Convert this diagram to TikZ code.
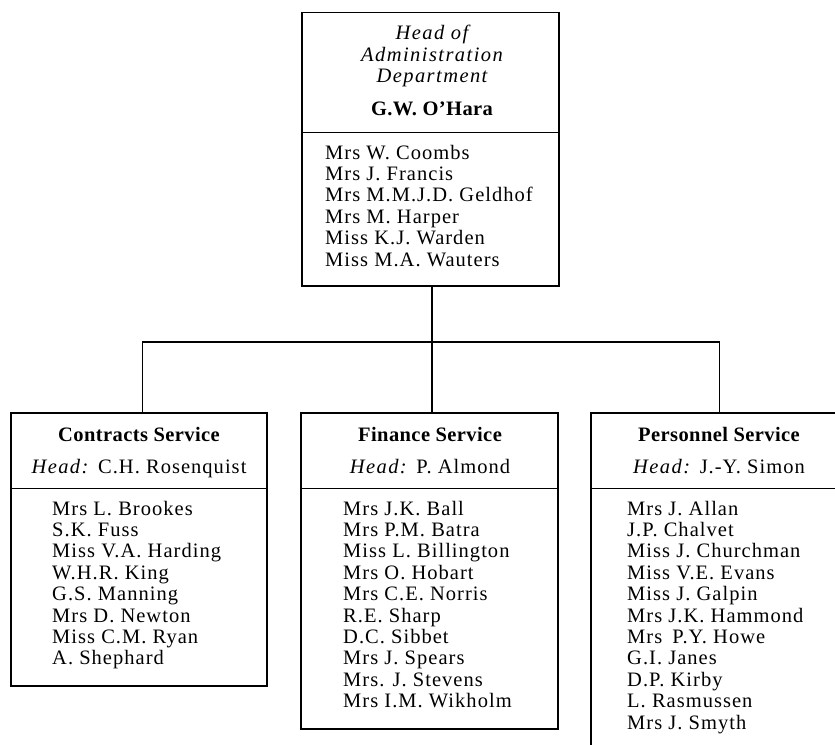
\documentclass[tikz,border=0pt]{standalone}
\usepackage{fontspec}
\setmainfont{Liberation Serif}[
  LetterSpace=5,
  ItalicFeatures={LetterSpace=7},
  BoldFeatures={LetterSpace=2}]
\begin{document}
\begin{tikzpicture}[x=1bp,y=-1bp,
  unitbox/.style={draw, line width=1.5bp, inner sep=0pt, anchor=north west},
  divider/.style={line width=1bp},
  link/.style={line width=1.2bp},
  title/.style={anchor=base, inner sep=0pt, font=\fontsize{20.5bp}{21.4bp}\selectfont},
  item/.style={anchor=base west, inner sep=0pt, font=\fontsize{20.5bp}{21.4bp}\selectfont}]
\useasboundingbox (0,0) rectangle (835,745);
\clip (0,0) rectangle (835,745);

% boxes
\node[unitbox, minimum width=257bp, minimum height=273bp] (head) at (301,12) {};
\node[unitbox, minimum width=256bp, minimum height=273bp] (contracts) at (10,412) {};
\node[unitbox, minimum width=257bp, minimum height=316bp] (finance) at (300,412) {};
\node[unitbox, minimum width=257bp, minimum height=380bp] (personnel) at (590,412) {};

% dividers between heading and staff list
\coordinate (dTop) at (0,132);
\coordinate (dLow) at (0,488);
\draw[divider] (head.west |- dTop) -- (head.east |- dTop);
\foreach \b in {contracts,finance,personnel}
  \draw[divider] (\b.west |- dLow) -- (\b.east |- dLow);

% connectors
\coordinate (bus) at (432,342);
\draw[link] (head.south -| bus) -- (bus);
\draw[link] ([xshift=4bp]contracts.north) |- (bus) -| (personnel.north);
\draw[link] (finance.north -| bus) -- (bus);

% department head
\node[title] (h1) at (432,40) {\itshape Head of};
\node[title] (h2) at (432,62) {\itshape Administration};
\node[title] (h3) at (432,83) {\itshape Department};
\node[title] (h4) at (432,115) {\bfseries G.W. O’Hara};
\foreach \n [count=\i] in {Mrs W. Coombs, Mrs J. Francis, Mrs M.M.J.D. Geldhof,
    Mrs M. Harper, Miss K.J. Warden, Miss M.A. Wauters}
  \node[item] (hs\i) at (325,{159+21.4*(\i-1)}) {\n};

% Contracts Service
\node[title] (c1) at (139,441) {\bfseries Contracts Service};
\node[title] (c2) at (139,473) {\textit{Head:} C.H. Rosenquist};
\foreach \n [count=\i] in {Mrs L. Brookes, S.K. Fuss, Miss V.A. Harding,
    W.H.R. King, G.S. Manning, Mrs D. Newton, Miss C.M. Ryan, A. Shephard}
  \node[item] (cs\i) at (52,{515+21.4*(\i-1)}) {\n};

% Finance Service
\node[title] (f1) at (430,441) {\bfseries Finance Service};
\node[title] (f2) at (430,473) {\textit{Head:} P. Almond};
\foreach \n [count=\i] in {Mrs J.K. Ball, Mrs P.M. Batra, Miss L. Billington,
    Mrs O. Hobart, Mrs C.E. Norris, R.E. Sharp, D.C. Sibbet, Mrs J. Spears,
    Mrs. J. Stevens, Mrs I.M. Wikholm}
  \node[item] (fs\i) at (343,{515+21.4*(\i-1)}) {\n};

% Personnel Service
\node[title] (p1) at (719,441) {\bfseries Personnel Service};
\node[title] (p2) at (719,473) {\textit{Head:} J.-Y. Simon};
\foreach \n [count=\i] in {Mrs J. Allan, J.P. Chalvet, Miss J. Churchman,
    Miss V.E. Evans, Miss J. Galpin, Mrs J.K. Hammond, Mrs\hspace{4bp} P.Y. Howe,
    G.I. Janes, D.P. Kirby, L. Rasmussen, Mrs J. Smyth}
  \node[item] (ps\i) at (627,{515+21.4*(\i-1)}) {\n};
\end{tikzpicture}
\end{document}
